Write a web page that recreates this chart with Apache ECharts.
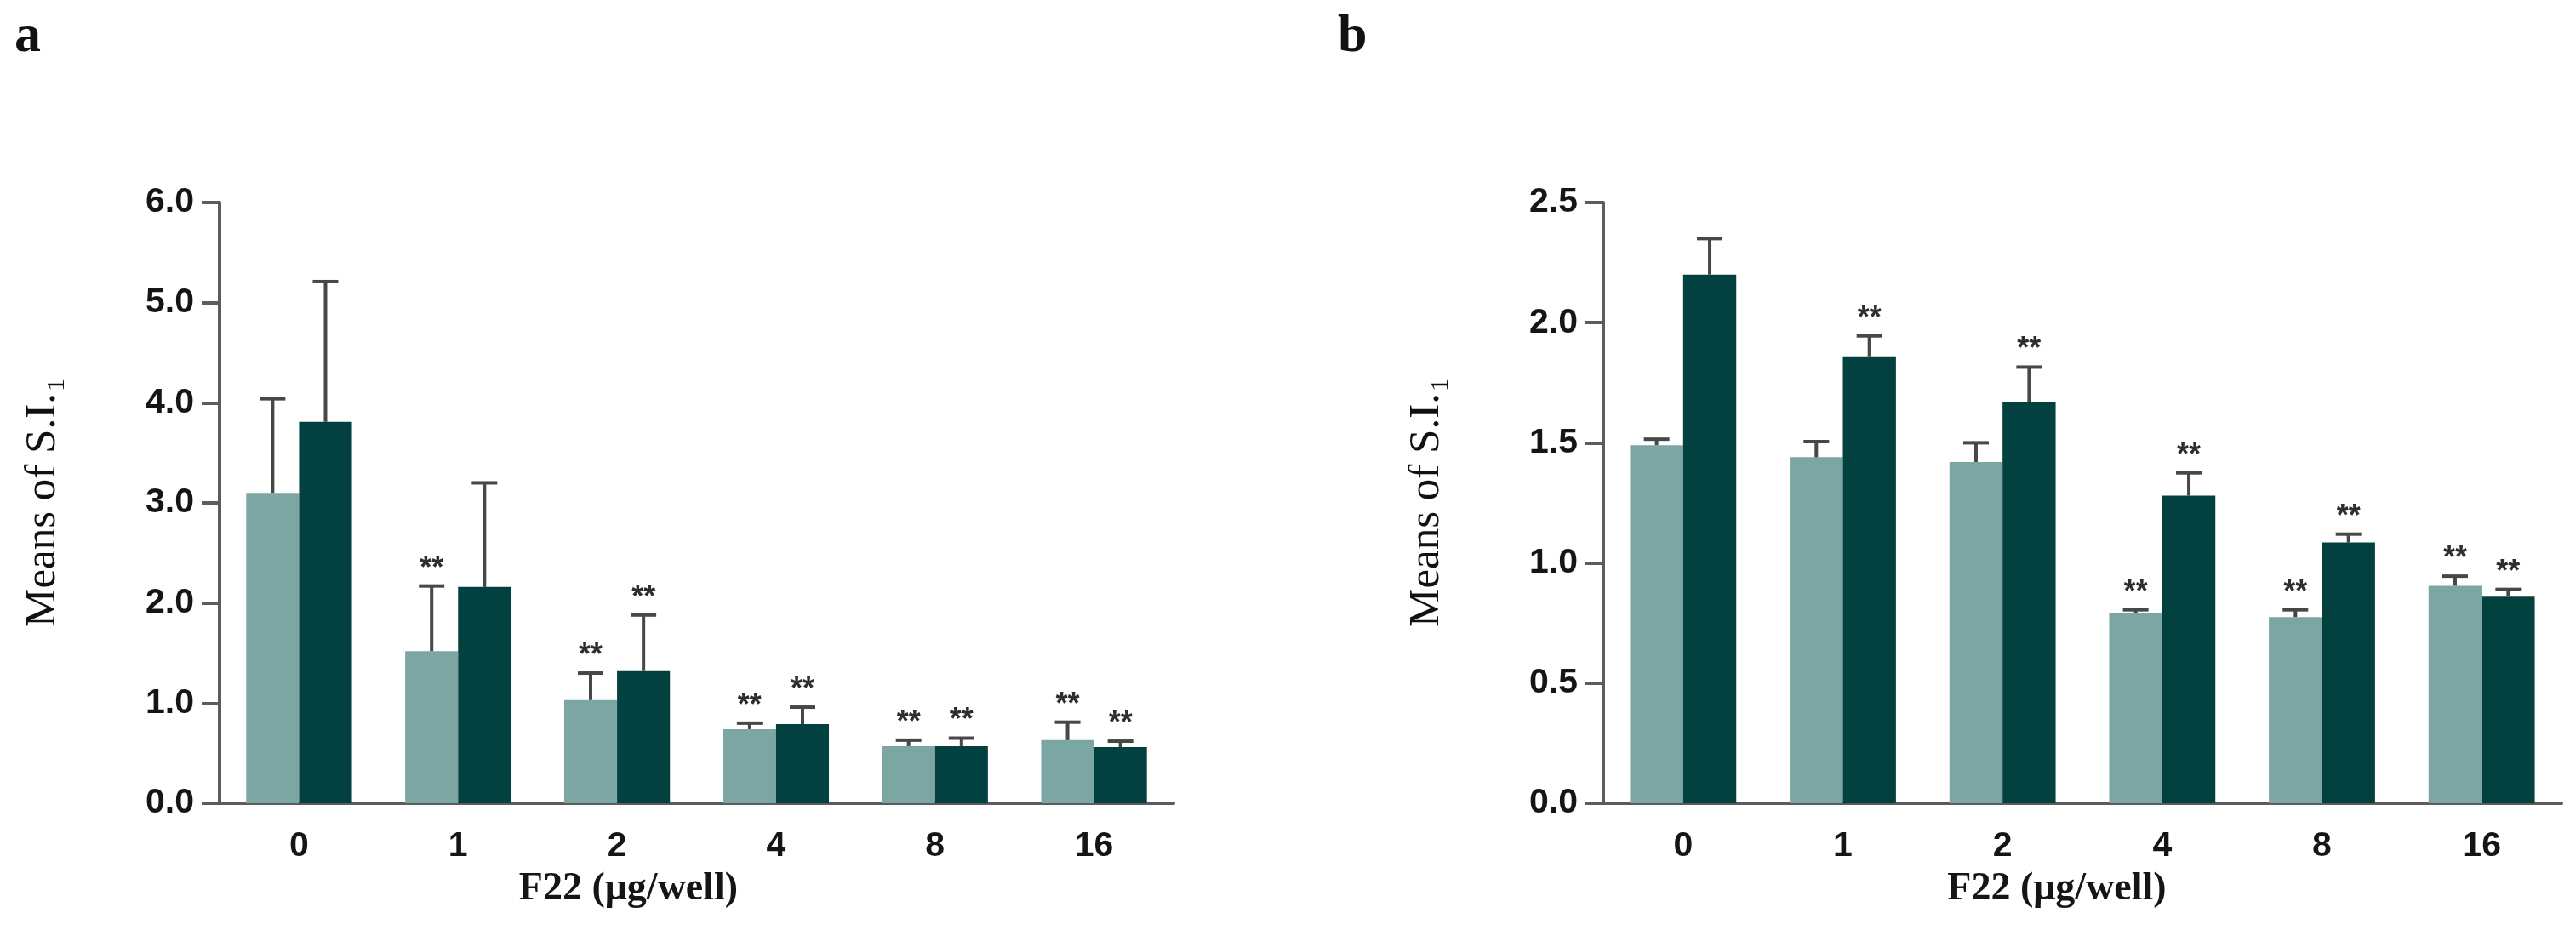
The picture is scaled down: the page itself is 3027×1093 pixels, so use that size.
<!DOCTYPE html>
<html>
<head>
<meta charset="utf-8">
<script src="https://cdn.jsdelivr.net/npm/echarts@6/dist/echarts.min.js"></script>
<style>
html,body{margin:0;padding:0;background:#fff;}
#chart{width:3027px;height:1093px;}
</style>
</head>
<body>
<div id="chart"></div>
<script>
// ---- data ----
const categories = ['0', '1', '2', '4', '8', '16'];

// panel a
const aLight    = [3.10, 1.52, 1.03, 0.74, 0.57, 0.63];
const aLightErr = [4.04, 2.17, 1.30, 0.80, 0.63, 0.81];   // upper end of error bar
const aDark     = [3.81, 2.16, 1.32, 0.79, 0.57, 0.56];
const aDarkErr  = [5.21, 3.20, 1.88, 0.96, 0.65, 0.62];
const aLightSig = ['', '**', '**', '**', '**', '**'];
const aDarkSig  = ['', '', '**', '**', '**', '**'];
const aTicks    = {min: 0, max: 6, interval: 1};

// panel b
const bLight    = [1.49, 1.44, 1.42, 0.79, 0.775, 0.905];
const bLightErr = [1.515, 1.505, 1.50, 0.805, 0.805, 0.945];
const bDark     = [2.20, 1.86, 1.67, 1.28, 1.085, 0.86];
const bDarkErr  = [2.35, 1.945, 1.815, 1.375, 1.12, 0.89];
const bLightSig = ['', '', '', '**', '**', '**'];
const bDarkSig  = ['', '**', '**', '**', '**', '**'];
const bTicks    = {min: 0, max: 2.5, interval: 0.5};

const xTitle = 'F22 (μg/well)';
const yTitleMain = 'Means of S.I.';
const yTitleSub = '1';

// ---- styles ----
const LIGHT = '#7ba6a4';
const DARK = '#034140';
const AXIS = '#5c5c5c';
const ERR = '#474747';
const CAT_GAP = 0.335;

const chart = echarts.init(document.getElementById('chart'));

function errData(means, tops, sig) {
  return means.map((m, i) => [i, m, tops[i], sig[i]]);
}

function errRender(side) {
  return function (params, api) {
    const i = api.value(0);
    const base = api.coord([i, api.value(1)]);
    const top = api.coord([i, api.value(2)]);
    const band = api.size([1, 0])[0];
    const bw = band * (1 - CAT_GAP) / 2;
    const x = base[0] + side * bw / 2;
    const cap = 15;
    const mark = api.value(3);
    const children = [
      {type: 'line', shape: {x1: x, y1: base[1], x2: x, y2: top[1]},
       style: {stroke: ERR, lineWidth: 4}},
      {type: 'line', shape: {x1: x - cap, y1: top[1], x2: x + cap, y2: top[1]},
       style: {stroke: ERR, lineWidth: 4}}
    ];
    if (mark) {
      children.push({type: 'text', x: x, y: top[1] - 2,
        style: {text: mark, fill: '#2e2e2e', align: 'center', verticalAlign: 'bottom',
                font: 'bold 36px "Liberation Sans", Arial, sans-serif'}});
    }
    return {type: 'group', children: children};
  };
}

function xAxisCfg(gridIndex, padLeft) {
  return {
    type: 'category', gridIndex: gridIndex, data: categories,
    axisLine: {lineStyle: {color: AXIS, width: 4}},
    axisTick: {show: false},
    axisLabel: {color: '#151515', fontSize: 41, fontWeight: 'bold',
                fontFamily: '"Liberation Sans", Arial, sans-serif', margin: 30},
    name: xTitle, nameLocation: 'middle', nameGap: 78,
    nameTextStyle: {color: '#151515', fontSize: 46, fontWeight: 'bold',
                    fontFamily: '"Liberation Serif", "Times New Roman", serif',
                    padding: padLeft}
  };
}

function yAxisCfg(gridIndex, t) {
  return {
    type: 'value', gridIndex: gridIndex, min: t.min, max: t.max, interval: t.interval,
    splitLine: {show: false},
    axisLine: {show: true, lineStyle: {color: AXIS, width: 4}},
    axisTick: {show: true, length: 21, lineStyle: {color: AXIS, width: 4}},
    axisLabel: {color: '#151515', fontSize: 41, fontWeight: 'bold',
                fontFamily: '"Liberation Sans", Arial, sans-serif', margin: 30,
                formatter: v => v.toFixed(1)},
    name: '{m|' + yTitleMain + '}{s|' + yTitleSub + '}',
    nameLocation: 'middle', nameGap: 182, nameRotate: 90,
    nameTextStyle: {
      rich: {
        m: {fontSize: 51, color: '#111', fontFamily: '"Liberation Serif", "Times New Roman", serif'},
        s: {fontSize: 30, color: '#111', fontFamily: '"Liberation Serif", "Times New Roman", serif',
            verticalAlign: 'bottom', padding: [0, 0, -6, 2]}
      }
    }
  };
}

function barSeries(idx, name, data, color) {
  return {type: 'bar', name: name, xAxisIndex: idx, yAxisIndex: idx, data: data,
          barGap: '0%', barCategoryGap: (CAT_GAP * 100) + '%',
          itemStyle: {color: color}, z: 2};
}

function errSeries(idx, side, means, tops, sig) {
  return {type: 'custom', xAxisIndex: idx, yAxisIndex: idx,
          data: errData(means, tops, sig), renderItem: errRender(side),
          encode: {x: 0, y: [1, 2]}, z: 3, silent: true};
}

chart.setOption({
  animation: false,
  backgroundColor: '#ffffff',
  title: [
    {text: 'a', left: 12, top: 8,
     textStyle: {fontFamily: '"Liberation Serif", serif', fontWeight: 'bold', fontSize: 62, color: '#111'}},
    {text: 'b', left: 1567, top: 8,
     textStyle: {fontFamily: '"Liberation Serif", serif', fontWeight: 'bold', fontSize: 62, color: '#111'}}
  ],
  grid: [
    {left: 258, top: 238, width: 1121, height: 706},
    {left: 1884, top: 238, width: 1126, height: 706}
  ],
  xAxis: [xAxisCfg(0, [0, 160, 0, 0]), xAxisCfg(1, [0, 60, 0, 0])],
  yAxis: [yAxisCfg(0, aTicks), yAxisCfg(1, bTicks)],
  series: [
    barSeries(0, 'light', aLight, LIGHT),
    barSeries(0, 'dark', aDark, DARK),
    errSeries(0, -1, aLight, aLightErr, aLightSig),
    errSeries(0, 1, aDark, aDarkErr, aDarkSig),
    barSeries(1, 'light', bLight, LIGHT),
    barSeries(1, 'dark', bDark, DARK),
    errSeries(1, -1, bLight, bLightErr, bLightSig),
    errSeries(1, 1, bDark, bDarkErr, bDarkSig)
  ]
});
</script>
</body>
</html>
